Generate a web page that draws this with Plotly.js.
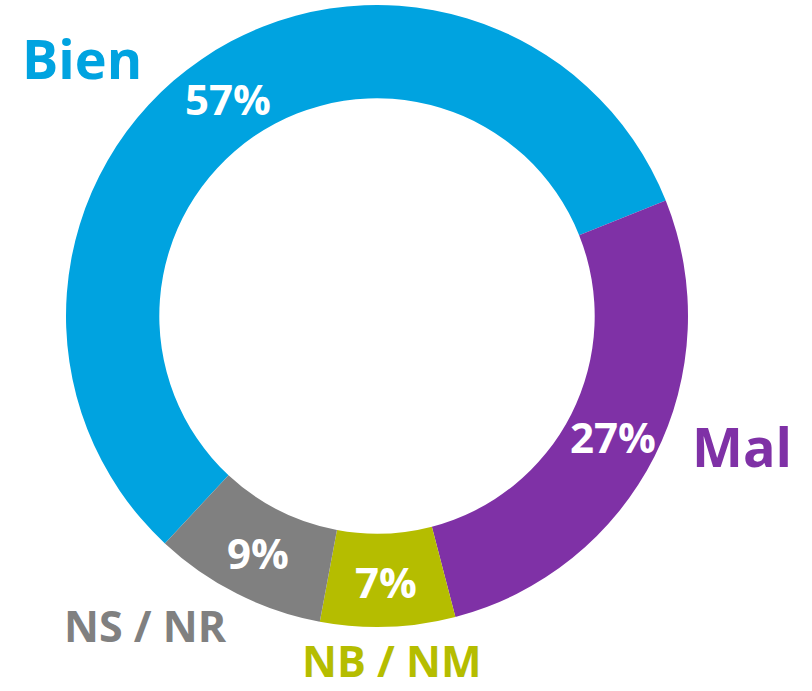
<!DOCTYPE html>
<html>
<head>
<meta charset="utf-8">
<script src="https://cdn.plot.ly/plotly-3.0.1.min.js"></script>
<style>html,body{margin:0;padding:0;background:#fff;}#chart{width:812px;height:691px;}</style>
</head>
<body>
<div id="chart"></div>
<script>
const labels = ["Bien", "Mal", "NB / NM", "NS / NR"];
const values = [57, 27, 7, 9];
const colors = ["#00A3E0", "#7F31A6", "#B5BD00", "#808080"];
// label annotation anchor positions (paper fractions)
const labelX = [82 / 812, 742 / 812, 391 / 812, 145 / 812];
const labelY = [1 - 58 / 691, 1 - 446 / 691, 0, 1 - 625 / 691];
const labelYAnchor = ["middle", "middle", "bottom", "middle"];

const W = 812, H = 691;
const ROT = 223, HOLE = 0.70;
const dom = { x0: 66, x1: 688, y0: 5, y1: 627 }; // pixels
const cx = (dom.x0 + dom.x1) / 2, cy = (dom.y0 + dom.y1) / 2;
const R = Math.min(dom.x1 - dom.x0, dom.y1 - dom.y0) / 2;
const rMid = R * (1 + HOLE) / 2;

const trace = {
  type: "pie",
  labels: labels,
  values: values,
  sort: false,
  direction: "clockwise",
  rotation: ROT,
  hole: HOLE,
  marker: { colors: colors, line: { width: 0 } },
  textinfo: "none",
  showlegend: false,
  hoverinfo: "label+percent",
  domain: { x: [dom.x0 / W, dom.x1 / W], y: [1 - dom.y1 / H, 1 - dom.y0 / H] }
};

const total = values.reduce((a, b) => a + b, 0);
let acc = 0;
const pctAnn = values.map((v, i) => {
  const mid = (ROT + (acc + v / 2) / total * 360) * Math.PI / 180;
  acc += v;
  const px = cx + rMid * Math.sin(mid);
  const py = cy - rMid * Math.cos(mid);
  return {
    text: Math.round(v / total * 100) + "%",
    x: px / W, y: 1 - (py + 1) / H,
    xref: "paper", yref: "paper",
    xanchor: "center", yanchor: "middle",
    showarrow: false,
    font: { family: "Open Sans", size: 42, color: "#ffffff", weight: 700 }
  };
});

const labelAnn = labels.map((l, i) => ({
  text: l,
  x: labelX[i],
  y: labelY[i],
  xref: "paper",
  yref: "paper",
  xanchor: "center",
  yanchor: labelYAnchor[i],
  borderpad: 0,
  showarrow: false,
  font: { family: "Open Sans", size: i < 2 ? 54 : 43, color: colors[i], weight: 700 }
}));

Plotly.newPlot("chart", [trace], {
  width: W,
  height: H,
  margin: { l: 0, r: 0, t: 0, b: 0 },
  paper_bgcolor: "#ffffff",
  plot_bgcolor: "#ffffff",
  annotations: pctAnn.concat(labelAnn)
}, { displayModeBar: false, staticPlot: true });
</script>
</body>
</html>
